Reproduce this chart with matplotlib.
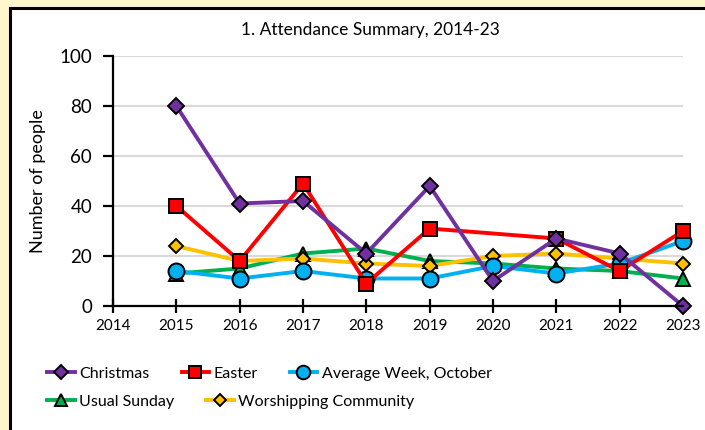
import numpy as np
import matplotlib
matplotlib.use("Agg")
from matplotlib import pyplot as plt
from matplotlib.lines import Line2D
from matplotlib.patches import Rectangle

years = [2015, 2016, 2017, 2018, 2019, 2020, 2021, 2022, 2023]
christmas = [80, 41, 42, 21, 48, 10, 27, 21, 0]
easter = [40, 18, 49, 9, 31, np.nan, 27, 14, 30]   # no Easter figure for 2020
avg_week = [14, 11, 14, 11, 11, 16, 13, 17, 26]
usual_sunday = [13, 15, 21, 23, 18, 17, 15, 14, 11]
worshipping = [24, 18, 19, 17, 16, 20, 21, 19, 17]

plt.rcParams['font.family'] = ['Lato', 'DejaVu Sans']

fig = plt.figure(figsize=(7.05, 4.30), dpi=100)
fig.patch.set_facecolor('#FFF6CC')
# white panel with black top/left edge
fig.add_artist(Rectangle((10/705, 0), 1, 1 - 8/430, transform=fig.transFigure,
                         facecolor='white', edgecolor='none', zorder=-10))
fig.add_artist(Line2D([10/705, 10/705], [0, 1 - 8/430], color='black', lw=2.2, zorder=-5))
fig.add_artist(Line2D([10/705, 1], [1 - 8/430, 1 - 8/430], color='black', lw=2.2, zorder=-5))

ax = fig.add_axes([113/705, 1 - 306/430, 570/705, 250/430])
ax.set_facecolor('none')
ax.set_zorder(2)

series = [
    ("Usual Sunday", usual_sunday, '#00B050', '^', 9.5),
    ("Worshipping Community", worshipping, '#FFC000', 'D', 7.5),
    ("Average Week, October", avg_week, '#00B0F0', 'o', 11.5),
    ("Easter", easter, '#FF0000', 's', 10.5),
    ("Christmas", christmas, '#7030A0', 'D', 8.5),
]
handles = {}
for name, vals, col, mk, ms in series:
    y = np.array(vals, dtype=float)
    x = np.array(years)
    ok = ~np.isnan(y)
    h, = ax.plot(x[ok], y[ok], color=col, lw=2.8, marker=mk, ms=ms,
                 markerfacecolor=col, markeredgecolor='black', markeredgewidth=1.4,
                 clip_on=False)
    handles[name] = h

ax.set_xlim(2014, 2023)
ax.set_ylim(0, 100)
ax.set_xticks(range(2014, 2024))
ax.set_yticks(range(0, 101, 20))
ax.grid(axis='y', color='#D9D9D9', lw=1.5)
ax.set_axisbelow(True)
for s in ['top', 'right']:
    ax.spines[s].set_visible(False)
ax.spines['left'].set_linewidth(1.6)
ax.spines['bottom'].set_linewidth(1.6)
ax.tick_params(axis='y', direction='out', length=7, width=1.6, labelsize=13.5, pad=8)
ax.tick_params(axis='x', direction='inout', length=10, width=1.6, labelsize=11, pad=4)
ax.set_ylabel("Number of people", fontsize=13)
ax.yaxis.set_label_coords(-0.118, 0.5)
fig.text(370/705, 1 - 30/430, "1. Attendance Summary, 2014-23", ha='center', va='center', fontsize=12.5)

row1 = ["Christmas", "Easter", "Average Week, October"]
row2 = ["Usual Sunday", "Worshipping Community"]
kw = dict(frameon=False, fontsize=11.5, handlelength=1.7, handletextpad=0.3,
          columnspacing=2.0, loc='upper left', markerscale=0.85)
fig.legend([handles[n] for n in row1], row1, ncol=3,
           bbox_to_anchor=(33/705, 1 - 352/430), **kw)
fig.legend([handles[n] for n in row2], row2, ncol=2,
           bbox_to_anchor=(33/705, 1 - 380/430), **kw)

fig.savefig("out.png", dpi=100, facecolor=fig.get_facecolor())
